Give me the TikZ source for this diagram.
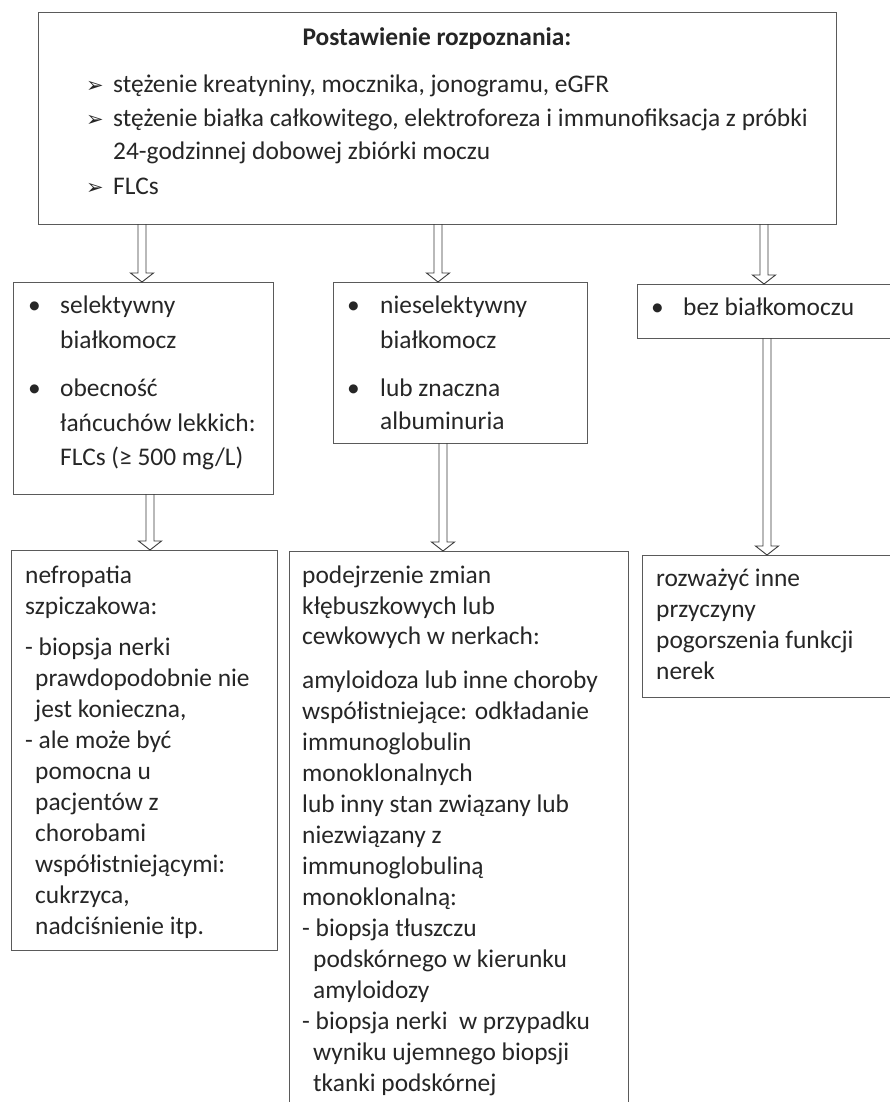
\documentclass[tikz,border=0pt]{standalone}
\usepackage{fontspec}
\setmainfont{Carlito}
\newfontfamily\dejavu{DejaVu Sans}
\usetikzlibrary{calc}
\definecolor{boxline}{HTML}{5A5A5A}
\definecolor{arrline}{HTML}{3A3A3A}
\definecolor{txtc}{HTML}{262626}
\newcommand\txtline[4]{\node[tl] (#1) at (#2,#3) {#4};}
\begin{document}
\begin{tikzpicture}[x=1pt,y=-1pt,
  boxst/.style={draw=boxline, line width=1.2pt, anchor=north west, inner sep=0pt},
  tl/.style={anchor=base west, inner sep=0pt, text=txtc, font=\fontsize{25.4}{31}\selectfont},
  titlest/.style={anchor=base, inner sep=0pt, text=txtc, font=\fontsize{25.4}{31}\selectfont\bfseries},
  arrbullet/.style={anchor=base west, inner sep=0pt, text=txtc, font=\dejavu\fontsize{21}{24}\selectfont},
  hollowarrow/.style={draw=arrline, line width=0.9pt, line join=miter,
    to path={let \p1=(\tikztostart), \p2=(\tikztotarget) in
      (\x1-4pt,\y1) -- (\x1-4pt,\y2+9pt) -- (\x1-11.5pt,\y2+9pt) -- (\x1,\y2)
      -- (\x1+11.5pt,\y2+9pt) -- (\x1+4pt,\y2+9pt) -- (\x1+4pt,\y1)}}
]
\fill[white] (0,0) rectangle (889,1102);
\useasboundingbox (0,0) rectangle (889,1102);

% boxes
\node[boxst, minimum width=798pt, minimum height=212pt] (top) at (38,12) {};
\node[boxst, minimum width=260pt, minimum height=212pt] (A) at (13,282) {};
\node[boxst, minimum width=254pt, minimum height=161pt] (B) at (333,282) {};
\node[boxst, minimum width=270pt, minimum height=54pt] (C) at (637,284) {};
\node[boxst, minimum width=266pt, minimum height=400pt] (LL) at (11,550) {};
\node[boxst, minimum width=339pt, minimum height=600pt] (LM) at (289,551) {};
\node[boxst, minimum width=270pt, minimum height=142pt] (LR) at (642,555) {};

% arrows
\coordinate (t1) at (142,224);
\coordinate (t2) at (438,224);
\coordinate (t3) at (764,224);
\coordinate (a1) at (150,494);
\coordinate (b1) at (443,443);
\coordinate (c1) at (767,338);
\draw[hollowarrow] (t1) to (t1 |- A.north);
\draw[hollowarrow] (t2) to (t2 |- B.north);
\draw[hollowarrow] (t3) to (t3 |- C.north);
\draw[hollowarrow] (a1) to (a1 |- LL.north);
\draw[hollowarrow] (b1) to (b1 |- LM.north);
\draw[hollowarrow] (c1) to (c1 |- LR.north);

% top box text
\node[titlest] (title) at (437,46) {Postawienie rozpoznania:};
\node[arrbullet] (tb1) at (86,93) {➢};
\node[arrbullet] (tb2) at (86,127) {➢};
\node[arrbullet] (tb3) at (86,194) {➢};
\txtline{t1l}{113}{93}{stężenie kreatyniny, mocznika, jonogramu, eGFR}
\txtline{t2l}{113}{127}{stężenie białka całkowitego, elektroforeza i immunofiksacja z próbki}
\txtline{t3l}{113}{160}{24-godzinnej dobowej zbiórki moczu}
\txtline{t4l}{113}{194}{FLCs}

% box A
\txtline{ab1}{28}{313}{•}
\txtline{ab2}{28}{396}{•}
\txtline{a1l}{60}{313}{selektywny}
\txtline{a2l}{60}{348}{białkomocz}
\txtline{a3l}{60}{396}{obecność}
\txtline{a4l}{60}{431}{łańcuchów lekkich:}
\txtline{a5l}{60}{465}{FLCs (≥ 500 mg/L)}

% box B
\txtline{bb1}{347}{313}{•}
\txtline{bb2}{347}{396}{•}
\txtline{b1l}{380}{313}{nieselektywny}
\txtline{b2l}{380}{348}{białkomocz}
\txtline{b3l}{380}{396}{lub znaczna}
\txtline{b4l}{380}{429}{albuminuria}

% box C
\txtline{cb1}{651}{315}{•}
\txtline{c1l}{683}{315}{bez białkomoczu}

% lower-left box
\txtline{ll1}{25}{583}{nefropatia}
\txtline{ll2}{25}{614}{szpiczakowa:}
\txtline{ll3}{25}{655}{- biopsja nerki}
\txtline{ll4}{35}{686}{prawdopodobnie nie}
\txtline{ll5}{35}{717}{jest konieczna,}
\txtline{ll6}{25}{748}{- ale może być}
\txtline{ll7}{35}{779}{pomocna u}
\txtline{ll8}{35}{810}{pacjentów z}
\txtline{ll9}{35}{841}{chorobami}
\txtline{ll10}{35}{872}{współistniejącymi:}
\txtline{ll11}{35}{903}{cukrzyca,}
\txtline{ll12}{35}{934}{nadciśnienie itp.}

% lower-middle box
\txtline{lm1}{302}{583}{podejrzenie zmian}
\txtline{lm2}{302}{614}{kłębuszkowych lub}
\txtline{lm3}{302}{644}{cewkowych w nerkach:}
\txtline{lm4}{302}{688}{amyloidoza lub inne choroby}
\txtline{lm5}{302}{719}{współistniejące: odkładanie}
\txtline{lm6}{302}{750}{immunoglobulin}
\txtline{lm7}{302}{781}{monoklonalnych}
\txtline{lm8}{302}{812}{lub inny stan związany lub}
\txtline{lm9}{302}{843}{niezwiązany z}
\txtline{lm10}{302}{874}{immunoglobuliną}
\txtline{lm11}{302}{905}{monoklonalną:}
\txtline{lm12}{302}{936}{- biopsja tłuszczu}
\txtline{lm13}{313}{967}{podskórnego w kierunku}
\txtline{lm14}{313}{998}{amyloidozy}
\txtline{lm15}{302}{1029}{- biopsja nerki\ \ w przypadku}
\txtline{lm16}{313}{1060}{wyniku ujemnego biopsji}
\txtline{lm17}{313}{1091}{tkanki podskórnej}

% lower-right box
\txtline{lr1}{656}{586}{rozważyć inne}
\txtline{lr2}{656}{617}{przyczyny}
\txtline{lr3}{656}{648}{pogorszenia funkcji}
\txtline{lr4}{656}{679}{nerek}
\end{tikzpicture}
\end{document}
